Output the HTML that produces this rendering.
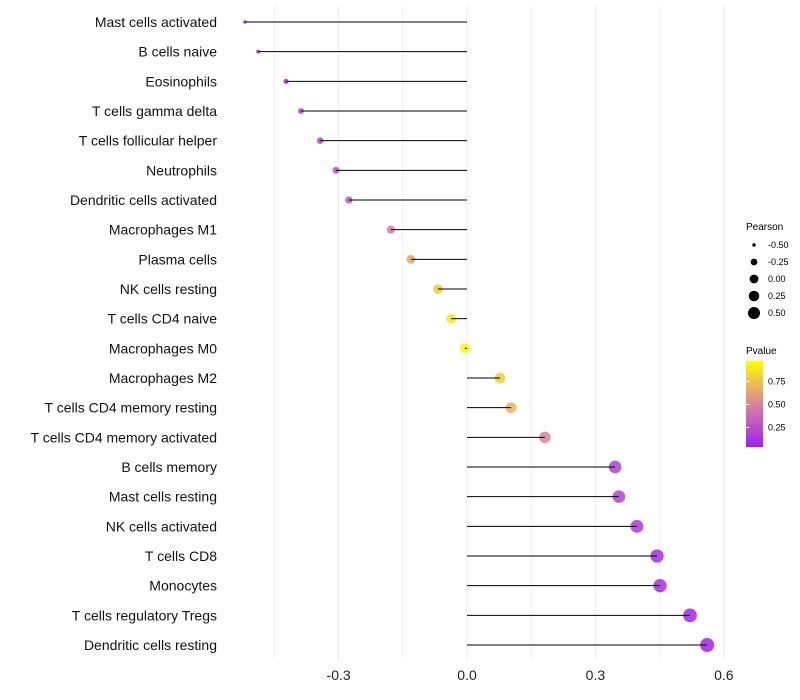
<!DOCTYPE html>
<html><head><meta charset="utf-8"><style>body{margin:0;background:#fff}svg{display:block}</style></head>
<body>
<svg id="chart" width="800" height="700" xmlns="http://www.w3.org/2000/svg" font-family="Liberation Sans, sans-serif">
<defs><linearGradient id="pg" x1="0" y1="1" x2="0" y2="0">
<stop offset="0" stop-color="#a020f0"/><stop offset="0.5" stop-color="#d8849c"/><stop offset="1" stop-color="#ffff00"/></linearGradient></defs>
<g id="grid"></g>
<g id="pts"></g>
<g id="marks"></g>
<g id="ylab"></g>
<g id="xlab"></g>
<g font-size="9">
<text x="746" y="230" font-size="10">Pearson</text>
<g id="sizeleg"></g>
</g>
<g font-size="9">
<text x="746" y="354" font-size="10">Pvalue</text>
<rect x="746" y="361" width="17" height="86" fill="url(#pg)"/>
<g id="colleg"></g>
</g>
</svg>
<script>
const categories=["Mast cells activated","B cells naive","Eosinophils","T cells gamma delta","T cells follicular helper","Neutrophils","Dendritic cells activated","Macrophages M1","Plasma cells","NK cells resting","T cells CD4 naive","Macrophages M0","Macrophages M2","T cells CD4 memory resting","T cells CD4 memory activated","B cells memory","Mast cells resting","NK cells activated","T cells CD8","Monocytes","T cells regulatory  Tregs","Dendritic cells resting"];
const pearson=[-0.519,-0.488,-0.423,-0.388,-0.343,-0.306,-0.276,-0.178,-0.131,-0.068,-0.037,-0.005,0.077,0.103,0.182,0.346,0.355,0.397,0.444,0.451,0.521,0.561];
const pvalue=[0.05,0.1,0.15,0.2,0.2,0.25,0.3,0.5,0.65,0.8,0.9,0.98,0.8,0.7,0.5,0.2,0.2,0.15,0.1,0.1,0.05,0.05];
const xTicks=[-0.3,0.0,0.3,0.6];
const xTickLabels=["-0.3","0.0","0.3","0.6"];
const sizeLegVals=[-0.5,-0.25,0,0.25,0.5];
const sizeLegLabels=["-0.50","-0.25","0.00","0.25","0.50"];
const colLegVals=[0.75,0.5,0.25];
const colLegLabels=["0.75","0.50","0.25"];
const NS="http://www.w3.org/2000/svg";
const x=v=>467+v*428;
const y=i=>22+i*(623/21);
const rad=v=>Math.sqrt(Math.max(1,25.1+42.7*v));
const radLeg=v=>Math.sqrt(Math.max(1,19.45+33.1*v));
const py=p=>447-(p-0.04)/0.93*86;
function lerp(a,b,t){return a.map((c,i)=>Math.round(c+(b[i]-c)*t));}
function col(p){const A=[160,32,240],M=[216,132,156],B=[255,255,0];const c=p<0.5?lerp(A,M,p/0.5):lerp(M,B,(p-0.5)/0.5);return `rgb(${c})`;}
function mk(tag,attrs,parent){const e=document.createElementNS(NS,tag);for(const k in attrs)e.setAttribute(k,attrs[k]);parent.appendChild(e);return e;}
const grid=document.getElementById('grid'),marks=document.getElementById('marks'),pts=document.getElementById('pts'),ylab=document.getElementById('ylab'),xlab=document.getElementById('xlab');
for(let v=-0.45;v<=0.61;v+=0.15){const l=mk('line',{x1:x(v),x2:x(v),y1:5,y2:660,stroke:'#ebebeb','stroke-width':Math.abs(Math.round(v/0.15))%2===0?1:0.6},grid);

}
xTicks.forEach((v,i)=>{const t=mk('text',{x:x(v),y:680,'text-anchor':'middle','font-size':14,fill:'#222'},xlab);t.textContent=xTickLabels[i];

});
categories.forEach((c,i)=>{
const t=mk('text',{x:217,y:y(i)+5,'text-anchor':'end','font-size':14,fill:'#111'},ylab);t.textContent=c;


const p=mk('circle',{cx:x(pearson[i]),cy:y(i),r:rad(pearson[i]),fill:col(pvalue[i]),'fill-opacity':0.88},pts);


const l=mk('line',{x1:x(0),x2:x(pearson[i]),y1:y(i),y2:y(i),stroke:'#000','stroke-width':1},marks);


});
const sl=document.getElementById('sizeleg');
sizeLegVals.forEach((v,i)=>{const cy=245+i*17;
const c=mk('circle',{cx:754,cy:cy,r:radLeg(v),fill:'#000'},sl);


const t=mk('text',{x:768,y:cy+3},sl);t.textContent=sizeLegLabels[i];

});
const cl=document.getElementById('colleg');
colLegVals.forEach((v,i)=>{const yy=py(v);
const l=mk('line',{x1:746,x2:749,y1:yy,y2:yy,stroke:'#fff'},cl);


const t=mk('text',{x:768,y:yy+3},cl);t.textContent=colLegLabels[i];

});
</script>
</body></html>
